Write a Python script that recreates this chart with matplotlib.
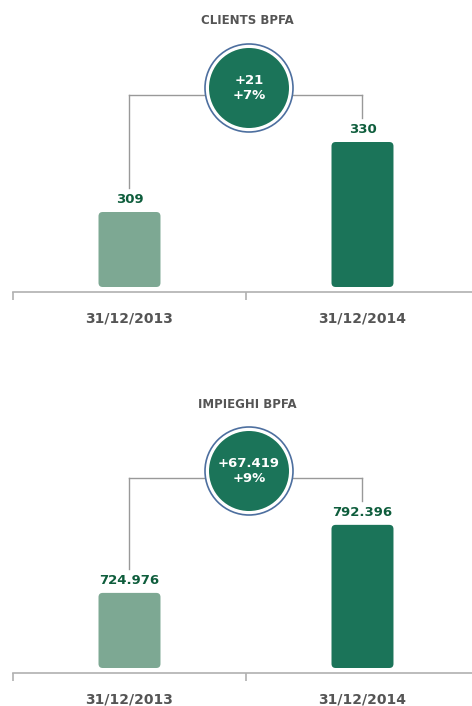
import matplotlib.pyplot as plt
from matplotlib.patches import FancyBboxPatch, Circle

categories = ["31/12/2013", "31/12/2014"]
titles = ["CLIENTS BPFA", "IMPIEGHI BPFA"]
clients = [309, 330]
clients_labels = ["309", "330"]
clients_delta = ["+21", "+7%"]
impieghi = [724.976, 792.396]
impieghi_labels = ["724.976", "792.396"]
impieghi_delta = ["+67.419", "+9%"]

W, H = 472, 706
LIGHT = "#7da893"
DARK = "#1b7459"
LABEL = "#0e5d3c"
GREY_TXT = "#555555"
GREY_LINE = "#b0b0b0"
RING = "#4d6f9f"

plt.rcParams['font.family'] = ['DejaVu Sans']
fig = plt.figure(figsize=(W / 100, H / 100), dpi=100)


def panel(top_px, axis_px, ylim, values, labels, delta, title, title_px, circ_px, conn_px):
    h_px = axis_px - top_px
    ax = fig.add_axes([13 / W, (H - axis_px) / H, 1 - 13 / W, h_px / H])
    xlim = (-0.5, 1.47)

    for s in ["top", "left", "right"]:
        ax.spines[s].set_visible(False)
    ax.spines["bottom"].set_color(GREY_LINE)
    ax.spines["bottom"].set_linewidth(1.2)
    ax.set_yticks([])
    ax.set_xticks([-0.5, 0.5, 1.5])
    ax.set_xticklabels([])
    ax.tick_params(axis="x", which="major", length=6, width=1.2, color=GREY_LINE)
    ax.set_xticks([0, 1], minor=True)
    ax.set_xticklabels(categories, minor=True, fontsize=10, fontweight="bold", color=GREY_TXT)
    ax.tick_params(axis="x", which="minor", length=0, pad=14)
    ax.patch.set_alpha(0)

    ax.set_xlim(*xlim)
    ax.set_ylim(*ylim)
    upp = (ylim[1] - ylim[0]) / h_px          # data units per pixel (y)
    xpp = (xlim[1] - xlim[0]) / (W - 13)      # data units per pixel (x)
    base = ylim[0] + 5 * upp

    colors = [LIGHT, DARK]
    for i, v in enumerate(values):
        bar = FancyBboxPatch((i - 0.133, base), 0.266, v - base,
                             boxstyle="round,pad=0,rounding_size=0.018",
                             mutation_aspect=upp / xpp,
                             facecolor=colors[i], edgecolor="none", zorder=2)
        ax.add_patch(bar)
        ax.text(i, v + 12 * upp, labels[i], ha="center", va="center",
                color=LABEL, fontsize=9.5, fontweight="bold")

    # connector lines
    y_c = ylim[0] + (axis_px - conn_px) * upp
    ax.plot([0, 0], [values[0] + 24 * upp, y_c], color="#999999", lw=1, zorder=1)
    ax.plot([0, 1], [y_c, y_c], color="#999999", lw=1, zorder=1)
    ax.plot([1, 1], [y_c, values[1] + 24 * upp], color="#999999", lw=1, zorder=1)

    fig.text(247 / W, 1 - title_px / H, title, ha="center", va="center",
             fontsize=8.5, fontweight="bold", color=GREY_TXT)

    cx, cy = circ_px
    fig.add_artist(Circle((cx / 100, (H - cy) / 100), 0.44, transform=fig.dpi_scale_trans,
                          facecolor="white", edgecolor=RING, lw=1.2))
    fig.add_artist(Circle((cx / 100, (H - cy) / 100), 0.40, transform=fig.dpi_scale_trans,
                          facecolor=DARK, edgecolor="none"))
    fig.text(cx / W, 1 - cy / H, "\n".join(delta), ha="center", va="center",
             color="white", fontsize=9.5, fontweight="bold", linespacing=1.15)


panel(40, 292, (285.0, 360.6), clients, clients_labels, clients_delta,
      titles[0], 20, (249, 88), 95)
panel(420, 673, (645.6, 896.3), impieghi, impieghi_labels, impieghi_delta,
      titles[1], 405, (249, 471), 478)

fig.savefig("out.png", dpi=100)
